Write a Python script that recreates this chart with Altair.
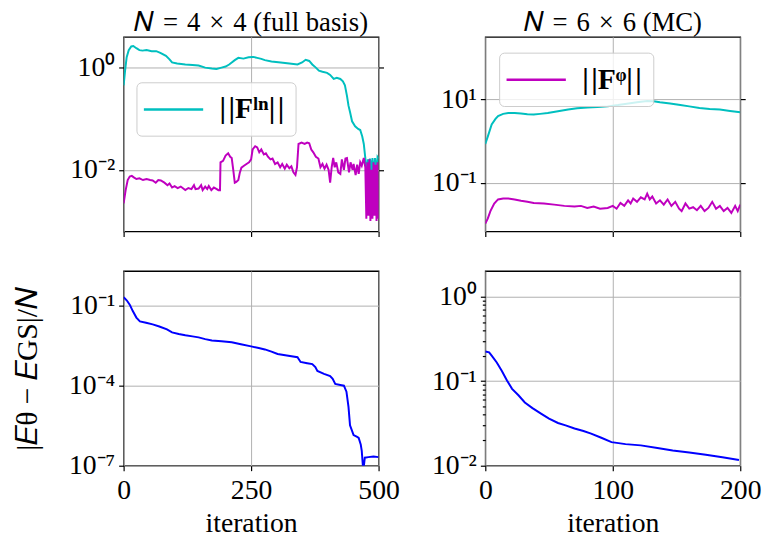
import altair as alt
import pandas as pd

FONT = "Liberation Serif"
CYAN, MAGENTA, BLUE = "#00BFBF", "#BF00BF", "#0000FF"
GRID = "#b0b0b0"

TITLE_L = "𝑁\u2004=\u20044\u2004×\u20044 (full basis)"
TITLE_R = "𝑁\u2004=\u20046\u2004×\u20046 (MC)"
LEG_LN = "|\u200a|Fˡⁿ|\u200a|"
LEG_PHI = "|\u200a|Fᵠ|\u200a|"
Y_TITLE = "|𝐸θ − 𝐸GS|/𝑁"
X_TITLE = "iteration"

# ---- top-left: N = 4x4, ||F^ln|| (cyan) ----
tl_ln_it = [0, 3, 6, 10, 15, 19, 25, 31, 37, 45, 55, 64, 72, 83, 90, 95, 105, 121, 135, 147,
            160, 173, 182, 192, 200, 207, 212, 218, 225, 235, 245, 254, 262, 270, 277, 290, 308,
            325, 341, 350, 357, 364, 370, 377, 383, 390, 399, 405, 412, 418, 425, 430, 434, 438,
            441, 444, 448, 454, 460, 464, 468, 471, 474, 477, 479, 481, 483, 486, 488, 491, 493,
            496, 498, 500]
tl_ln_val = [0.45, 0.9, 1.6, 2.2, 2.6, 2.65, 2.4, 2.2, 2.15, 2.2, 2.1, 2.1, 1.95, 1.7, 1.45, 1.26,
             1.2, 1.15, 1.12, 1.1, 1.0, 0.96, 0.94, 1.0, 1.05, 1.15, 1.26, 1.4, 1.55, 1.5, 1.6, 1.62,
             1.55, 1.48, 1.4, 1.32, 1.26, 1.2, 1.15, 1.26, 1.42, 1.35, 1.15, 1.0, 0.87, 0.83, 0.79,
             0.72, 0.6, 0.63, 0.6, 0.54, 0.45, 0.28, 0.18, 0.135, 0.089, 0.071, 0.063, 0.06, 0.045,
             0.032, 0.017, 0.0071, 0.016, 0.005, 0.0166, 0.01, 0.017, 0.0079, 0.017, 0.0089, 0.0178,
             0.0166]

# ---- top-left: N = 4x4, ||F^phi|| (magenta) ----
tl_phi_it = [0, 4, 8, 12, 16, 20, 25, 31, 38, 45, 52, 57, 63, 68, 73, 80, 86, 90, 95, 100, 106,
             112, 117, 121, 127, 133, 138, 141, 147, 152, 155, 160, 164, 167, 172, 177, 181, 186,
             189, 190, 195, 200, 205, 209, 212, 215, 218, 221, 225, 228, 231, 236, 241, 246, 250,
             253, 258, 262, 266, 270, 275, 279, 283, 288, 292, 297, 302, 307, 311, 316, 320, 325,
             329, 333, 337, 340, 343, 349, 355, 360, 364, 368, 372, 377, 382, 386, 390, 394, 398,
             402, 405, 408, 411, 414, 417, 421, 425, 428, 432, 435, 438, 442, 445, 449, 451, 455,
             458, 461, 464, 467, 471, 474, 476, 478, 480, 482, 484, 486, 488, 490, 492, 494, 496,
             498, 500]
tl_phi_val = [0.0022, 0.004, 0.0063, 0.0074, 0.0076, 0.0071, 0.0066, 0.0068, 0.0063, 0.0066,
              0.0063, 0.0062, 0.0056, 0.0063, 0.0062, 0.0056, 0.005, 0.0054, 0.0045, 0.0048,
              0.0044, 0.0047, 0.0043, 0.004, 0.0044, 0.0042, 0.005, 0.0042, 0.0043, 0.005, 0.004,
              0.0047, 0.0042, 0.0048, 0.004, 0.0045, 0.0043, 0.004, 0.004, 0.014, 0.015, 0.019,
              0.021, 0.018, 0.017, 0.01, 0.0056, 0.0058, 0.0063, 0.0089, 0.011, 0.012, 0.013,
              0.014, 0.016, 0.025, 0.029, 0.0275, 0.022, 0.025, 0.02, 0.021, 0.018, 0.016, 0.0166,
              0.013, 0.014, 0.0112, 0.013, 0.0105, 0.0126, 0.0107, 0.0117, 0.0089, 0.0079, 0.0112,
              0.032, 0.034, 0.032, 0.034, 0.033, 0.025, 0.022, 0.018, 0.0166, 0.0112, 0.013,
              0.0105, 0.0126, 0.01, 0.0056, 0.0112, 0.017, 0.0112, 0.014, 0.0089, 0.0083, 0.016,
              0.01, 0.0166, 0.017, 0.0089, 0.014, 0.01, 0.013, 0.0079, 0.0126, 0.0083, 0.014,
              0.012, 0.017, 0.0112, 0.0011, 0.014, 0.00126, 0.016, 0.001, 0.01, 0.0011, 0.014,
              0.00126, 0.0126, 0.001, 0.014, 0.0011]

# ---- top-right: N = 6x6, ||F^ln|| (cyan) ----
tr_ln_it = [0, 2, 5, 8, 10, 14, 18, 23, 28, 33, 38, 43, 49, 57, 65, 72, 80, 88, 96, 104, 111,
            119, 127, 132, 137, 145, 153, 160, 168, 176, 184, 192, 200]
tr_ln_val = [0.85, 1.3, 2.5, 3.4, 4.0, 4.5, 4.7, 4.7, 4.6, 4.4, 4.35, 4.5, 4.7, 5.2, 5.7, 6.1, 6.4,
             6.6, 6.8, 7.3, 7.9, 8.5, 9.2, 9.0, 8.5, 8.0, 7.3, 6.8, 6.2, 5.9, 5.7, 5.3, 4.9]

# ---- top-right: N = 6x6, ||F^phi|| (magenta) ----
tr_phi_it = [0, 2, 4, 7, 10, 14, 18, 23, 28, 33, 38, 46, 54, 62, 70, 75, 80, 85, 90, 96, 100,
             103, 106, 109, 112, 114, 116, 119, 122, 125, 127, 129, 131, 134, 137, 140, 143, 146,
             149, 152, 154, 157, 160, 163, 166, 169, 172, 175, 178, 181, 184, 187, 190, 193, 196,
             198, 200]
tr_phi_val = [0.0105, 0.014, 0.021, 0.032, 0.04, 0.042, 0.042, 0.04, 0.037, 0.035, 0.033, 0.032,
              0.03, 0.028, 0.027, 0.028, 0.025, 0.027, 0.024, 0.025, 0.028, 0.024, 0.033, 0.028,
              0.038, 0.032, 0.042, 0.035, 0.045, 0.04, 0.055, 0.04, 0.047, 0.032, 0.038, 0.03,
              0.04, 0.028, 0.035, 0.024, 0.021, 0.032, 0.024, 0.026, 0.022, 0.028, 0.021, 0.025,
              0.035, 0.024, 0.028, 0.021, 0.025, 0.019, 0.028, 0.021, 0.03]

# ---- bottom-left: N = 4x4, energy error ----
bl_it = [0, 6, 12, 18, 25, 32, 44, 57, 70, 85, 95, 108, 121, 135, 147, 160, 173, 192, 212, 230,
         250, 265, 277, 290, 302, 320, 341, 347, 360, 370, 376, 380, 393, 405, 410, 415, 425, 432,
         437, 441, 444, 451, 458, 461, 465, 467, 470, 473, 480, 490, 500]
bl_val = [0.21, 0.16, 0.11, 0.063, 0.036, 0.026, 0.023, 0.02, 0.0166, 0.013, 0.01, 0.0087,
          0.0078, 0.0071, 0.0065, 0.0056, 0.005, 0.0047, 0.0043, 0.0036, 0.003, 0.0026, 0.0023,
          0.0019, 0.00155, 0.00135, 0.00117, 0.00078, 0.0007, 0.00065, 0.0005, 0.00036, 0.00028,
          0.00023, 0.00018, 0.000117, 0.000107, 0.0001, 6.0e-5, 1.6e-5, 3.3e-6, 1.4e-6, 1.2e-6,
          1.1e-6, 6.3e-7, 3.6e-7, 6.3e-8, 2.0e-7, 2.1e-7, 2.2e-7, 2.1e-7]

# ---- bottom-right: N = 6x6, energy error ----
br_it = [0, 3, 5, 9, 13, 17, 21, 26, 31, 37, 44, 50, 57, 63, 70, 77, 83, 91, 99, 110, 122, 135,
         147, 160, 173, 186, 199]
br_val = [0.224, 0.219, 0.2, 0.166, 0.132, 0.102, 0.081, 0.068, 0.056, 0.048, 0.041, 0.036,
          0.032, 0.030, 0.0275, 0.0257, 0.024, 0.0214, 0.019, 0.018, 0.0174, 0.0162, 0.0151,
          0.0143, 0.0135, 0.0126, 0.0117]

# axis tick values
tl_major = [0, -2]
tr_major = [1, -1]
bl_major = [-1, -4, -7]
br_major = [0, -1, -2]
br_minor = [2e-2, 3e-2, 4e-2, 5e-2, 6e-2, 7e-2, 8e-2, 9e-2, 0.2, 0.3, 0.4, 0.5, 0.6, 0.7, 0.8, 0.9]

W, H = 258, 197
SUP = str.maketrans("0123456789-", "⁰¹²³⁴⁵⁶⁷⁸⁹⁻")
IS_MAJOR = "abs(log(datum.value)/LN10 - round(log(datum.value)/LN10)) < 0.01"


def label_expr(exps):
    expr = "''"
    for e in exps:
        expr = f"abs(log(datum.value)/LN10 - ({e})) < 0.01 ? '10{str(e).translate(SUP)}' : " + expr
    return expr


def df(it, val, name=""):
    return pd.DataFrame({"iteration": it, "value": val, "series": name})


def xenc(dom, vals, bottom):
    axis = alt.Axis(values=vals, title=X_TITLE if bottom else None, labels=bottom,
                    labelFlush=False, grid=True, titlePadding=6, labelPadding=6)
    return alt.X("iteration:Q", scale=alt.Scale(domain=dom, nice=False, zero=False), axis=axis)


def legend(x, y):
    return alt.Legend(orient="none", legendX=x, legendY=y, title=None,
                      symbolType="M-2,0H2", symbolSize=900, symbolStrokeWidth=2.5,
                      labelFont=FONT, labelFontSize=30, labelFontWeight="bold",
                      labelOffset=30, symbolOffset=10,
                      padding=11, cornerRadius=5, strokeColor="#cccccc",
                      fillColor="rgba(255,255,255,0.8)")


def top_panel(dom_x, xvals, dom_y, majors, first, second, leg_name, leg_color, other_color,
              leg_pos, title, legend_on_second):
    ys = alt.Scale(type="log", domain=dom_y, nice=False)
    vals = [10.0 ** e for e in majors]
    x = xenc(dom_x, xvals, False)
    y_main = alt.Y("value:Q", scale=ys,
                   axis=alt.Axis(values=vals, labelExpr=label_expr(majors), title=None,
                                 labelOverlap=False, minExtent=72, maxExtent=72))
    y_none = alt.Y("value:Q", scale=ys, axis=None)
    y_right = alt.Y("value:Q", scale=ys,
                    axis=alt.Axis(orient="right", values=vals, labels=False, grid=False,
                                  title=None, minExtent=0, maxExtent=5))
    col = alt.Color("series:N", scale=alt.Scale(domain=[leg_name], range=[leg_color]),
                    legend=legend(*leg_pos))
    if legend_on_second:
        a = alt.Chart(first).mark_line(strokeWidth=2, clip=True, color=other_color).encode(x=x, y=y_main)
        b = alt.Chart(second).mark_line(strokeWidth=2, clip=True).encode(x=x, y=y_none, color=col)
    else:
        a = alt.Chart(first).mark_line(strokeWidth=2, clip=True).encode(x=x, y=y_main, color=col)
        b = alt.Chart(second).mark_line(strokeWidth=2, clip=True, color=other_color).encode(x=x, y=y_none)
    ghost = alt.Chart(second).mark_line(strokeOpacity=0).encode(x=x, y=y_right)
    return alt.layer(a, b, ghost).resolve_axis(y="independent").properties(
        width=W, height=H,
        title=alt.TitleParams(title, anchor="middle", frame="group", offset=0))


tl = top_panel([0, 500], [0, 250, 500], [6.2e-4, 4.0], tl_major,
               df(tl_ln_it, tl_ln_val, LEG_LN), df(tl_phi_it, tl_phi_val, LEG_PHI),
               LEG_LN, CYAN, MAGENTA, (13, 46), TITLE_L, False)
tr = top_panel([0, 200], [0, 100, 200], [0.0068, 316], tr_major,
               df(tr_ln_it, tr_ln_val, LEG_LN), df(tr_phi_it, tr_phi_val, LEG_PHI),
               LEG_PHI, MAGENTA, CYAN, (14, 16), TITLE_R, True)

bl = alt.Chart(df(bl_it, bl_val)).mark_line(strokeWidth=2, clip=True, color=BLUE).encode(
    x=xenc([0, 500], [0, 250, 500], True),
    y=alt.Y("value:Q", scale=alt.Scale(type="log", domain=[1e-7, 2.0], nice=False),
            axis=alt.Axis(values=[10.0 ** e for e in bl_major], labelExpr=label_expr(bl_major),
                          title=Y_TITLE, titleFontSize=30, labelOverlap=False,
                          minExtent=72, maxExtent=72, titlePadding=10)),
).properties(width=W, height=H)

br = alt.Chart(df(br_it, br_val)).mark_line(strokeWidth=2, clip=True, color=BLUE).encode(
    x=xenc([0, 200], [0, 100, 200], True),
    y=alt.Y("value:Q", scale=alt.Scale(type="log", domain=[0.01, 2.0], nice=False),
            axis=alt.Axis(values=[10.0 ** e for e in br_major] + br_minor,
                          labelExpr=label_expr(br_major), title=None, labelOverlap=False,
                          minExtent=72, maxExtent=72,
                          tickSize={"condition": {"test": IS_MAJOR, "value": 5}, "value": 3},
                          gridOpacity={"condition": {"test": IS_MAJOR, "value": 1}, "value": 0})),
).properties(width=W, height=H)

chart = alt.concat(
    tl, tr, bl, br, columns=2, spacing={"row": 40, "column": 108}, bounds="flush"
).resolve_scale(
    x="independent", y="independent", color="independent"
).resolve_legend(color="independent").properties(
    padding={"left": 4, "top": -3, "right": 0, "bottom": 0}
).configure_view(
    stroke="black", strokeWidth=1.3
).configure_axis(
    labelFont=FONT, labelFontSize=28, titleFont=FONT, titleFontSize=28, titleFontWeight="normal",
    labelColor="black", titleColor="black", tickColor="black", tickSize=5, tickWidth=1.2,
    gridColor=GRID, gridWidth=1, domain=False, labelPadding=4
).configure_title(font=FONT, fontSize=27, fontWeight="normal", color="black")

chart.save("out.html", embed_options={"renderer": "svg", "actions": False})
